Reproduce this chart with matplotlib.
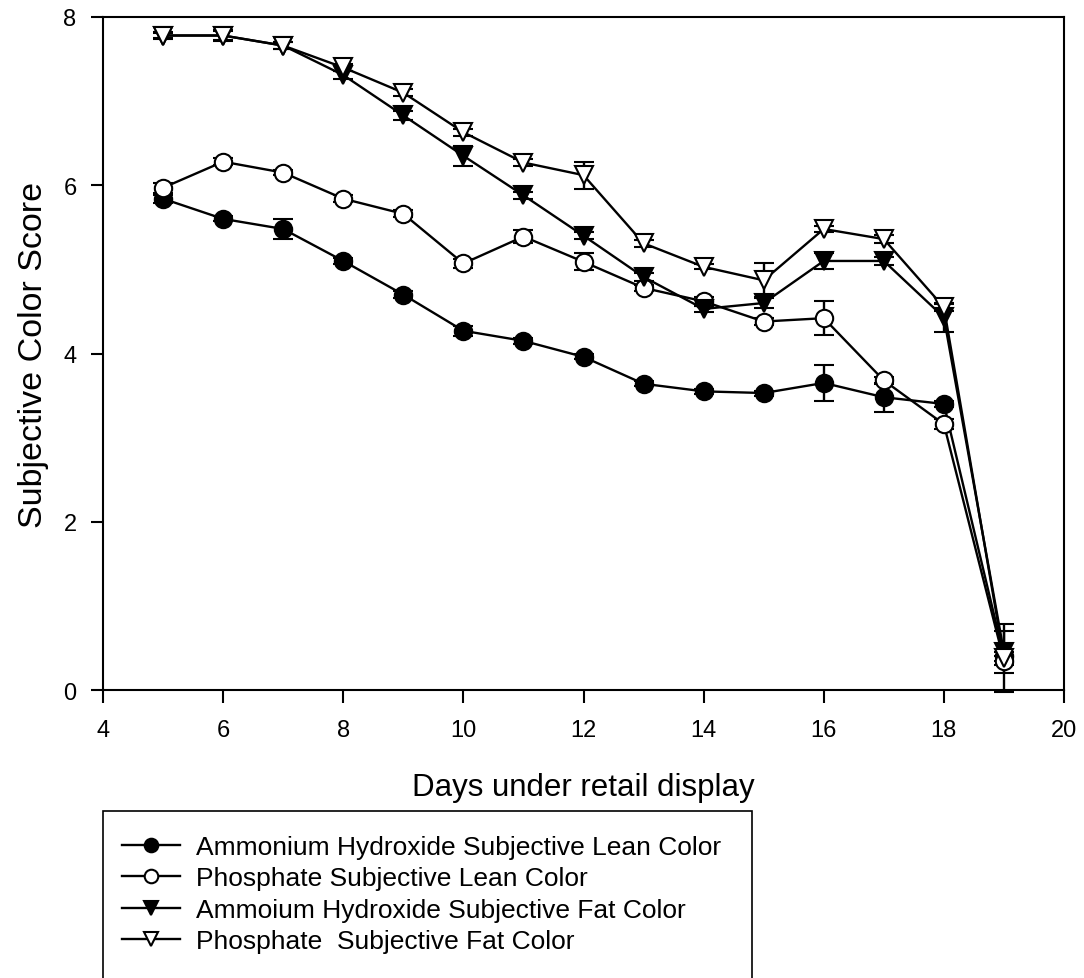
import numpy as np
import matplotlib.pyplot as plt
from matplotlib.patches import Rectangle
from matplotlib.lines import Line2D

plt.rcParams["font.family"] = ["Liberation Sans", "DejaVu Sans"]

days = [5, 6, 7, 8, 9, 10, 11, 12, 13, 14, 15, 16, 17, 18, 19]

# Ammonium hydroxide lean colour
ah_lean = [5.84, 5.60, 5.48, 5.10, 4.70, 4.27, 4.15, 3.96, 3.64, 3.55, 3.53, 3.65, 3.48, 3.40, 0.40]
ah_lean_err = [0.05, 0.03, 0.12, 0.04, 0.04, 0.06, 0.04, 0.03, 0.03, 0.03, 0.03, 0.21, 0.17, 0.04, 0.05]
# Phosphate lean colour
ph_lean = [5.97, 6.28, 6.15, 5.84, 5.66, 5.07, 5.39, 5.09, 4.78, 4.62, 4.38, 4.42, 3.68, 3.16, 0.35]
ph_lean_err = [0.06, 0.04, 0.03, 0.04, 0.04, 0.05, 0.08, 0.10, 0.04, 0.05, 0.04, 0.20, 0.04, 0.06, 0.05]
# Ammonium hydroxide fat colour
ah_fat = [7.78, 7.78, 7.66, 7.31, 6.83, 6.35, 5.88, 5.40, 4.91, 4.53, 4.60, 5.10, 5.10, 4.43, 0.45]
ah_fat_err = [0.04, 0.05, 0.04, 0.05, 0.05, 0.12, 0.04, 0.04, 0.05, 0.04, 0.06, 0.10, 0.05, 0.17, 0.25]
# Phosphate fat colour
ph_fat = [7.78, 7.78, 7.66, 7.40, 7.10, 6.63, 6.27, 6.12, 5.31, 5.03, 4.87, 5.48, 5.36, 4.55, 0.38]
ph_fat_err = [0.03, 0.06, 0.04, 0.04, 0.04, 0.04, 0.04, 0.16, 0.04, 0.03, 0.20, 0.04, 0.05, 0.04, 0.40]

labels = [
    "Ammonium Hydroxide Subjective Lean Color",
    "Phosphate Subjective Lean Color",
    "Ammoium Hydroxide Subjective Fat Color",
    "Phosphate  Subjective Fat Color",
]

fig = plt.figure(figsize=(10.84, 9.79), dpi=100)
ax = fig.add_axes([103 / 1084, 1 - 691 / 979, (1064 - 103) / 1084, (691 - 18) / 979])

series = [
    (ah_lean, ah_lean_err, "o", "black", 12.5),
    (ph_lean, ph_lean_err, "o", "white", 12.5),
    (ah_fat, ah_fat_err, "v", "black", 13.5),
    (ph_fat, ph_fat_err, "v", "white", 13.5),
]
handles = []
for vals, err, mk, fc, ms in series:
    ax.errorbar(days, vals, yerr=err, color="black", lw=1.7, marker=mk,
                markersize=ms, markerfacecolor=fc, markeredgecolor="black",
                markeredgewidth=1.5, capsize=7, capthick=1.7, elinewidth=1.7,
                clip_on=False)
    handles.append(Line2D([], [], color="black", lw=1.7, marker=mk,
                          markersize=ms * 0.78, markerfacecolor=fc,
                          markeredgecolor="black", markeredgewidth=1.5))

ax.set_xlim(4, 20)
ax.set_ylim(0, 8)
ax.set_xticks(range(4, 21, 2))
ax.set_yticks(range(0, 9, 2))
ax.tick_params(direction="out", length=9, width=1.5, labelsize=17)
ax.tick_params(axis="x", pad=12)
ax.tick_params(axis="y", pad=10)
for s in ax.spines.values():
    s.set_linewidth(1.5)
ax.set_xlabel("Days under retail display", fontsize=22.5, labelpad=22)
ax.set_ylabel("Subjective Color Score", fontsize=24.5, labelpad=10)

# legend box, running off the bottom edge as in the original
fig.patches.append(Rectangle((103 / 1084, -0.02), (752 - 103) / 1084, (979 - 812) / 979 + 0.02,
                             transform=fig.transFigure, fill=False, lw=1.2, ec="black"))
leg = fig.legend(handles=handles, labels=labels, loc="upper left",
                 bbox_to_anchor=(122 / 1084, 1 - 836 / 979), frameon=False,
                 fontsize=19, handlelength=2.2, handletextpad=0.6,
                 labelspacing=0.28, borderpad=0, borderaxespad=0)

fig.savefig("out.png", dpi=100)
